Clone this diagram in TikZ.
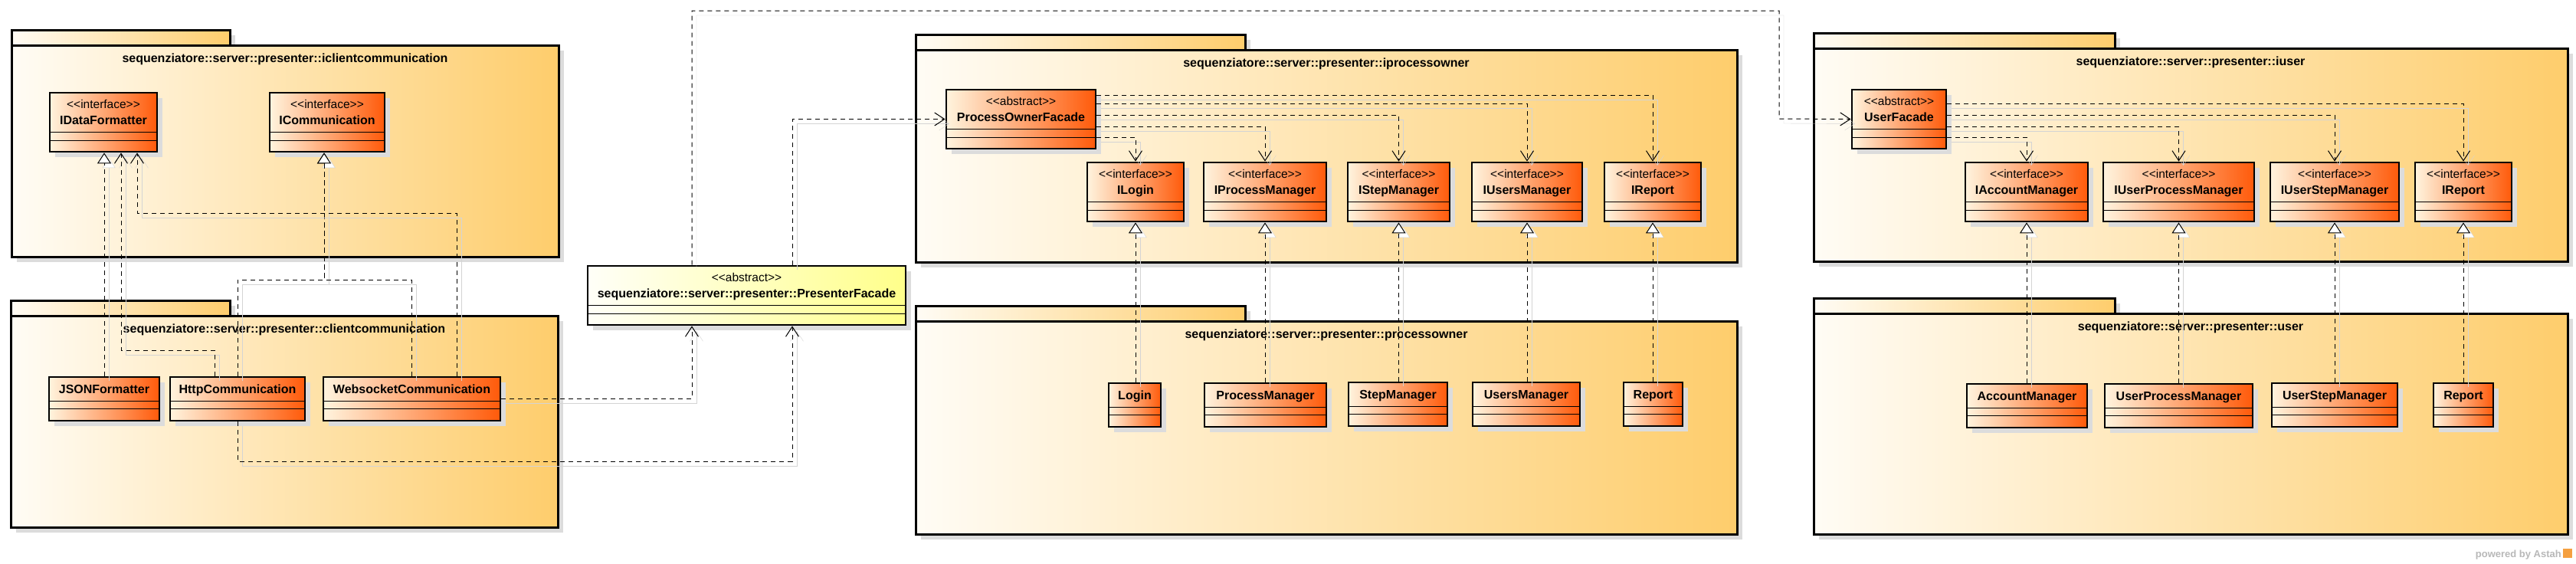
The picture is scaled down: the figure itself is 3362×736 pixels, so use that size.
\documentclass[tikz,border=0pt]{standalone}
\usepackage{fontspec}
\setmainfont{Liberation Sans}
\usetikzlibrary{arrows.meta,shadows}
\definecolor{clsL}{HTML}{FFF4DE}
\definecolor{clsR}{HTML}{FF5A0A}
\definecolor{pkgL}{HTML}{FFFCF5}
\definecolor{pkgR}{HTML}{FECD6C}
\definecolor{pfL}{HTML}{FFFFF8}
\definecolor{pfR}{HTML}{FFFF8A}
\definecolor{shd}{HTML}{DCDCDC}
\definecolor{lshd}{HTML}{D4D4D4}
\definecolor{logoc}{HTML}{F5A040}

\newcommand\st[1]{<\kern0pt<#1>\kern0pt>}

\tikzset{
 boxshadow/.style={drop shadow={shadow xshift=7pt, shadow yshift=-7pt, fill=shd, opacity=1}},
 cls/.style={draw, line width=2.8pt, left color=clsL, right color=clsR, boxshadow, inner sep=0pt},
 pfbox/.style={cls, left color=pfL, right color=pfR},
 pkg/.style={draw, line width=3pt, left color=pkgL, right color=pkgR, boxshadow, inner sep=0pt},
 cline/.style={line width=1pt},
 stereo/.style={anchor=base, font=\fontsize{15.5}{18}\selectfont, inner sep=0pt},
 cname/.style={anchor=base, font=\fontsize{16}{19}\selectfont\bfseries, inner sep=0pt},
 ptitle/.style={anchor=base, font=\fontsize{16}{19}\selectfont\bfseries, inner sep=0pt},
 conn/.style={line width=1pt, dash pattern=on 6pt off 5pt,
   preaction={draw=lshd, solid, transform canvas={xshift=6pt,yshift=-6pt}}},
 real/.style={conn, -{Triangle[length=14pt,width=18pt,fill=white]}},
 dep/.style={conn, -{Straight Barb[length=13pt,width=17pt]}},
}

% package: id, x1, ytab, tabx2, ybody, x2, ybottom, title
\newcommand\umlpkg[8]{%
  \node[pkg, minimum width={#4pt-#2pt}, minimum height={#5pt-#3pt}] (#1-tab) at ({(#2+#4)/2},{(#3+#5)/2}) {};
  \node[pkg, minimum width={#6pt-#2pt}, minimum height={#7pt-#5pt}] (#1) at ({(#2+#6)/2},{(#5+#7)/2}) {};
  \node[ptitle] (#1-t) at ([yshift=-24pt]#1.north) {#8};
}
% class with stereotype: id, style, x1, y1, x2, stereotype, name
\newcommand\umlI[7]{%
  \node[#2, minimum width={#5pt-#3pt}, minimum height=77pt] (#1) at ({(#3+#5)/2},{#4+38.5}) {};
  \draw[cline] (#3,{#4+51}) -- (#5,{#4+51}) (#3,{#4+62}) -- (#5,{#4+62});
  \node[stereo] (#1-s) at ([yshift=-22pt]#1.north) {#6};
  \node[cname] (#1-n) at ([yshift=-43pt]#1.north) {#7};
}
% plain class: id, x1, y1, x2, name
\newcommand\umlC[5]{%
  \node[cls, minimum width={#4pt-#2pt}, minimum height=57pt] (#1) at ({(#2+#4)/2},{#3+28.5}) {};
  \draw[cline] (#2,{#3+31}) -- (#4,{#3+31}) (#2,{#3+41}) -- (#4,{#3+41});
  \node[cname] (#1-n) at ([yshift=-22.5pt]#1.north) {#5};
}

\begin{document}
\begin{tikzpicture}[x={(1pt,0)}, y={(0,-1pt)}]
\fill[white] (0,0) rectangle (3362,736);
\useasboundingbox (0,0) rectangle (3362,736);

% packages
\umlpkg{icc}{15}{39}{300}{59}{729}{335}{sequenziatore::server::presenter::iclientcommunication}
\umlpkg{cc}{14}{392}{300}{412}{728}{688}{sequenziatore::server::presenter::clientcommunication}
\umlpkg{ipo}{1195}{45}{1625}{65}{2267}{342}{sequenziatore::server::presenter::iprocessowner}
\umlpkg{po}{1195}{399}{1625}{419}{2267}{697}{sequenziatore::server::presenter::processowner}
\umlpkg{iu}{2367}{43}{2760}{63}{3351}{341}{sequenziatore::server::presenter::iuser}
\umlpkg{u}{2367}{389}{2760}{409}{3351}{697}{sequenziatore::server::presenter::user}

% classes
\umlI{idf}{cls}{65}{121}{205}{\st{interface}}{IDataFormatter}
\umlI{icomm}{cls}{352}{121}{502}{\st{interface}}{ICommunication}
\umlC{json}{64}{492}{208}{JSONFormatter}
\umlC{http}{222}{492}{398}{HttpCommunication}
\umlC{ws}{422}{492}{653}{WebsocketCommunication}
\umlI{pf}{pfbox}{767}{347}{1182}{\st{abstract}}{sequenziatore::server::presenter::PresenterFacade}

\umlI{pof}{cls}{1235}{117}{1430}{\st{abstract}}{ProcessOwnerFacade}
\umlI{ilogin}{cls}{1419}{212}{1545}{\st{interface}}{ILogin}
\umlI{ipm}{cls}{1571}{212}{1731}{\st{interface}}{IProcessManager}
\umlI{ism}{cls}{1759}{212}{1892}{\st{interface}}{IStepManager}
\umlI{ium}{cls}{1921}{212}{2065}{\st{interface}}{IUsersManager}
\umlI{irep}{cls}{2094}{212}{2220}{\st{interface}}{IReport}
\umlC{login}{1447}{500}{1515}{Login}
\umlC{pm}{1572}{500}{1731}{ProcessManager}
\umlC{sm}{1760}{499}{1889}{StepManager}
\umlC{um}{1922}{499}{2062}{UsersManager}
\umlC{rep}{2119}{499}{2196}{Report}

\umlI{uf}{cls}{2417}{117}{2540}{\st{abstract}}{UserFacade}
\umlI{iam}{cls}{2565}{212}{2725}{\st{interface}}{IAccountManager}
\umlI{iupm}{cls}{2745}{212}{2942}{\st{interface}}{IUserProcessManager}
\umlI{iusm}{cls}{2963}{212}{3131}{\st{interface}}{IUserStepManager}
\umlI{iurep}{cls}{3152}{212}{3278}{\st{interface}}{IReport}
\umlC{am}{2567}{501}{2724}{AccountManager}
\umlC{upm}{2747}{501}{2940}{UserProcessManager}
\umlC{usm}{2965}{500}{3129}{UserStepManager}
\umlC{urep}{3176}{500}{3254}{Report}

% client communication connectors
\draw[real] (json.north) -- (json.north |- idf.south);
\draw[real] (http.north) |- (423,365) -- (icomm.south -| 423,0);
\draw[real] (ws.north) |- (423,365) -- (icomm.south -| 423,0);
\draw[dep] (http.north -| 280,0) |- (158,457) -- (idf.south -| 158,0);
\draw[dep] (ws.north -| 596,0) |- (179,278) -- (idf.south -| 179,0);
\draw[dep] (ws.east) -| (pf.south -| 903,0);
\draw[dep] (http.south) -- (http.south |- 0,602) -| (pf.south -| 1034,0);

% presenter facade connectors
\draw[dep] (pf.north -| 1034,0) |- (pof.west);
\draw[dep] (pf.north -| 903,0) -- (903,14) -| (2322,155) -- (uf.west);

% process owner facade dependencies
\draw[dep] (pof.east |- 0,124) -| (irep.north);
\draw[dep] (pof.east |- 0,135) -| (ium.north);
\draw[dep] (pof.east |- 0,150) -| (ism.north);
\draw[dep] (pof.east |- 0,165) -| (ipm.north);
\draw[dep] (pof.east |- 0,179) -| (ilogin.north);

% user facade dependencies
\draw[dep] (uf.east |- 0,135) -| (iurep.north);
\draw[dep] (uf.east |- 0,150) -| (iusm.north);
\draw[dep] (uf.east |- 0,165) -| (iupm.north);
\draw[dep] (uf.east |- 0,179) -| (iam.north);

% realizations
\draw[real] (ilogin.south |- login.north) -- (ilogin.south);
\draw[real] (ipm.south |- pm.north) -- (ipm.south);
\draw[real] (ism.south |- sm.north) -- (ism.south);
\draw[real] (ium.south |- um.north) -- (ium.south);
\draw[real] (irep.south |- rep.north) -- (irep.south);
\draw[real] (iam.south |- am.north) -- (iam.south);
\draw[real] (iupm.south |- upm.north) -- (iupm.south);
\draw[real] (iusm.south |- usm.north) -- (iusm.south);
\draw[real] (iurep.south |- urep.north) -- (iurep.south);

% logo
\node[anchor=base east, font=\fontsize{13}{15}\selectfont\bfseries, text=black!28, inner sep=0pt] (astah) at (3343,727) {powered by Astah};
\node[fill=logoc, minimum size=12pt, inner sep=0pt] (astahlogo) at (3351,722) {};
\end{tikzpicture}
\end{document}
